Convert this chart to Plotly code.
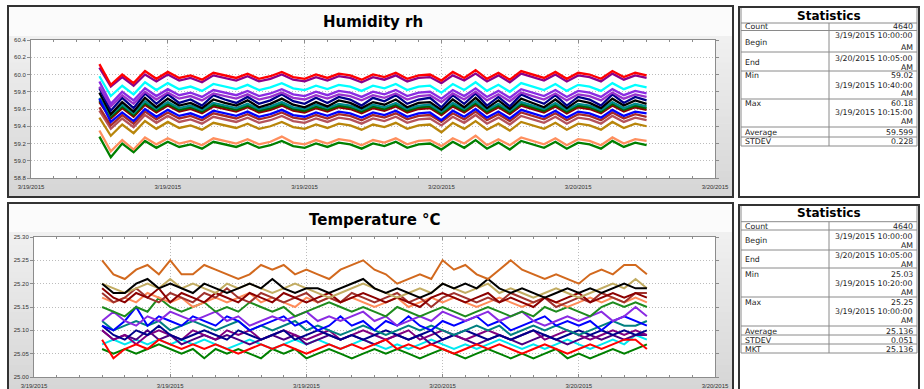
import plotly.graph_objects as go
import pandas as pd

W, H = 924, 389

# ---------------- data ----------------
times = pd.date_range("2015-03-19 10:00", periods=49, freq="30min")
x_range = ["2015-03-19 07:00", "2015-03-20 13:00"]
x_tickvals = ["2015-03-19 07:00", "2015-03-19 13:00", "2015-03-19 19:00",
              "2015-03-20 01:00", "2015-03-20 07:00", "2015-03-20 13:00"]
x_ticktext = ["3/19/2015", "3/19/2015", "3/19/2015", "3/20/2015", "3/20/2015", "3/20/2015"]

hum_ticks = [58.8, 59.0, 59.2, 59.4, 59.6, 59.8, 60.0, 60.2, 60.4]
temp_ticks = [25.00, 25.05, 25.10, 25.15, 25.20, 25.25, 25.30]

hum_red = [60.12, 59.88, 60.00, 59.90, 60.04, 59.95, 60.03, 59.96, 59.99, 59.94, 60.02, 59.99, 59.96, 60.01, 59.95, 59.98, 60.03, 59.97, 59.95, 60.00, 59.96, 60.01, 59.99, 59.94, 60.00, 59.97, 60.02, 59.95, 59.99, 60.00, 59.93, 60.03, 59.96, 60.05, 59.95, 60.02, 59.94, 60.04, 60.00, 59.96, 60.03, 59.95, 60.02, 60.00, 59.95, 60.04, 59.97, 60.02, 59.99]
hum_purple = [60.08, 59.86, 59.97, 59.87, 60.00, 59.92, 60.00, 59.93, 59.96, 59.91, 59.99, 59.96, 59.93, 59.98, 59.92, 59.95, 60.00, 59.94, 59.92, 59.97, 59.93, 59.98, 59.96, 59.91, 59.97, 59.94, 59.99, 59.92, 59.96, 59.97, 59.90, 59.99, 59.93, 60.01, 59.92, 59.99, 59.91, 60.01, 59.97, 59.93, 60.00, 59.92, 59.99, 59.97, 59.92, 60.01, 59.94, 59.99, 59.96]
hum_cyan = [59.98, 59.75, 59.87, 59.77, 59.91, 59.82, 59.90, 59.83, 59.86, 59.81, 59.89, 59.86, 59.83, 59.88, 59.82, 59.85, 59.90, 59.84, 59.82, 59.87, 59.83, 59.88, 59.86, 59.81, 59.87, 59.84, 59.89, 59.82, 59.86, 59.87, 59.79, 59.89, 59.82, 59.91, 59.81, 59.88, 59.80, 59.90, 59.86, 59.82, 59.89, 59.81, 59.88, 59.86, 59.81, 59.90, 59.83, 59.88, 59.85]
hum_violet = [59.92, 59.66, 59.80, 59.70, 59.84, 59.75, 59.83, 59.76, 59.79, 59.74, 59.82, 59.79, 59.76, 59.81, 59.75, 59.78, 59.83, 59.77, 59.75, 59.80, 59.76, 59.81, 59.79, 59.74, 59.80, 59.77, 59.82, 59.75, 59.79, 59.80, 59.72, 59.82, 59.75, 59.84, 59.74, 59.81, 59.73, 59.83, 59.79, 59.75, 59.82, 59.74, 59.81, 59.79, 59.74, 59.83, 59.76, 59.81, 59.78]
hum_orchid = [59.86, 59.63, 59.76, 59.66, 59.80, 59.71, 59.79, 59.72, 59.75, 59.70, 59.78, 59.75, 59.72, 59.77, 59.71, 59.74, 59.79, 59.73, 59.71, 59.76, 59.72, 59.77, 59.75, 59.70, 59.76, 59.73, 59.78, 59.71, 59.75, 59.76, 59.68, 59.78, 59.71, 59.80, 59.70, 59.77, 59.69, 59.79, 59.75, 59.71, 59.78, 59.70, 59.77, 59.75, 59.70, 59.79, 59.72, 59.77, 59.74]
hum_navy = [59.84, 59.58, 59.73, 59.61, 59.78, 59.66, 59.77, 59.67, 59.71, 59.64, 59.76, 59.71, 59.67, 59.74, 59.66, 59.70, 59.77, 59.69, 59.66, 59.73, 59.67, 59.74, 59.71, 59.64, 59.73, 59.69, 59.76, 59.66, 59.71, 59.73, 59.62, 59.76, 59.66, 59.78, 59.64, 59.74, 59.63, 59.77, 59.71, 59.66, 59.76, 59.64, 59.74, 59.71, 59.64, 59.77, 59.67, 59.74, 59.70]
hum_black = [59.79, 59.54, 59.68, 59.57, 59.73, 59.62, 59.72, 59.64, 59.67, 59.61, 59.71, 59.67, 59.64, 59.70, 59.62, 59.66, 59.72, 59.65, 59.62, 59.68, 59.63, 59.70, 59.67, 59.61, 59.68, 59.65, 59.71, 59.62, 59.67, 59.68, 59.59, 59.71, 59.62, 59.73, 59.61, 59.70, 59.60, 59.72, 59.67, 59.62, 59.71, 59.61, 59.70, 59.67, 59.61, 59.72, 59.64, 59.70, 59.66]
hum_teal = [59.73, 59.53, 59.65, 59.55, 59.69, 59.60, 59.68, 59.61, 59.64, 59.59, 59.67, 59.64, 59.61, 59.66, 59.60, 59.63, 59.68, 59.62, 59.60, 59.65, 59.61, 59.66, 59.64, 59.59, 59.65, 59.62, 59.67, 59.60, 59.64, 59.65, 59.57, 59.67, 59.60, 59.69, 59.59, 59.66, 59.58, 59.68, 59.64, 59.60, 59.67, 59.59, 59.66, 59.64, 59.59, 59.68, 59.61, 59.66, 59.63]
hum_darkgreen = [59.70, 59.51, 59.63, 59.53, 59.67, 59.58, 59.66, 59.59, 59.62, 59.57, 59.65, 59.62, 59.59, 59.64, 59.58, 59.61, 59.66, 59.60, 59.58, 59.63, 59.59, 59.64, 59.62, 59.57, 59.63, 59.60, 59.65, 59.58, 59.62, 59.63, 59.55, 59.65, 59.58, 59.67, 59.57, 59.64, 59.56, 59.66, 59.62, 59.58, 59.65, 59.57, 59.64, 59.62, 59.57, 59.66, 59.59, 59.64, 59.61]
hum_darkred = [59.68, 59.49, 59.61, 59.51, 59.65, 59.56, 59.64, 59.57, 59.60, 59.55, 59.63, 59.60, 59.57, 59.62, 59.56, 59.59, 59.64, 59.58, 59.56, 59.61, 59.57, 59.62, 59.60, 59.55, 59.61, 59.58, 59.63, 59.56, 59.60, 59.61, 59.53, 59.63, 59.56, 59.65, 59.55, 59.62, 59.54, 59.64, 59.60, 59.56, 59.63, 59.55, 59.62, 59.60, 59.55, 59.64, 59.57, 59.62, 59.59]
hum_blue = [59.72, 59.45, 59.56, 59.46, 59.60, 59.51, 59.59, 59.52, 59.55, 59.50, 59.58, 59.55, 59.52, 59.57, 59.51, 59.54, 59.59, 59.53, 59.51, 59.56, 59.52, 59.57, 59.55, 59.50, 59.56, 59.53, 59.58, 59.51, 59.55, 59.56, 59.47, 59.58, 59.51, 59.60, 59.50, 59.57, 59.49, 59.59, 59.55, 59.51, 59.58, 59.50, 59.57, 59.55, 59.50, 59.59, 59.52, 59.57, 59.55]
hum_brown = [59.62, 59.41, 59.53, 59.43, 59.57, 59.48, 59.56, 59.49, 59.52, 59.47, 59.55, 59.52, 59.49, 59.54, 59.48, 59.51, 59.56, 59.50, 59.48, 59.53, 59.49, 59.54, 59.52, 59.47, 59.53, 59.50, 59.55, 59.48, 59.52, 59.53, 59.45, 59.55, 59.48, 59.57, 59.47, 59.54, 59.46, 59.56, 59.52, 59.48, 59.55, 59.47, 59.54, 59.52, 59.47, 59.56, 59.49, 59.54, 59.51]
hum_rosy = [59.58, 59.37, 59.49, 59.39, 59.53, 59.44, 59.52, 59.45, 59.48, 59.43, 59.51, 59.48, 59.45, 59.50, 59.44, 59.47, 59.52, 59.46, 59.44, 59.49, 59.45, 59.50, 59.48, 59.43, 59.49, 59.46, 59.51, 59.44, 59.48, 59.49, 59.41, 59.51, 59.44, 59.53, 59.43, 59.50, 59.42, 59.52, 59.48, 59.44, 59.51, 59.43, 59.50, 59.48, 59.43, 59.52, 59.45, 59.50, 59.47]
hum_gold = [59.50, 59.29, 59.42, 59.32, 59.46, 59.37, 59.45, 59.38, 59.41, 59.36, 59.44, 59.41, 59.38, 59.43, 59.37, 59.40, 59.45, 59.39, 59.37, 59.42, 59.38, 59.43, 59.41, 59.36, 59.42, 59.39, 59.44, 59.37, 59.41, 59.42, 59.33, 59.44, 59.37, 59.46, 59.36, 59.43, 59.35, 59.45, 59.41, 59.37, 59.44, 59.36, 59.43, 59.41, 59.36, 59.45, 59.38, 59.43, 59.40]
hum_salmon = [59.35, 59.11, 59.24, 59.13, 59.27, 59.19, 59.26, 59.20, 59.23, 59.18, 59.26, 59.23, 59.20, 59.25, 59.19, 59.22, 59.28, 59.21, 59.19, 59.24, 59.20, 59.25, 59.23, 59.18, 59.24, 59.21, 59.26, 59.19, 59.23, 59.24, 59.17, 59.26, 59.20, 59.29, 59.18, 59.25, 59.18, 59.27, 59.23, 59.19, 59.26, 59.18, 59.25, 59.23, 59.18, 59.27, 59.20, 59.25, 59.23]
hum_green = [59.28, 59.04, 59.20, 59.10, 59.23, 59.15, 59.22, 59.16, 59.19, 59.14, 59.22, 59.19, 59.16, 59.21, 59.15, 59.18, 59.23, 59.17, 59.15, 59.20, 59.16, 59.21, 59.19, 59.14, 59.20, 59.17, 59.22, 59.15, 59.19, 59.20, 59.13, 59.22, 59.15, 59.24, 59.14, 59.21, 59.13, 59.23, 59.19, 59.15, 59.22, 59.14, 59.21, 59.19, 59.14, 59.23, 59.16, 59.21, 59.18]

tmp_green2 = [25.06, 25.05, 25.06, 25.05, 25.06, 25.07, 25.06, 25.05, 25.06, 25.04, 25.06, 25.05, 25.06, 25.05, 25.04, 25.06, 25.05, 25.06, 25.04, 25.05, 25.06, 25.05, 25.04, 25.05, 25.06, 25.05, 25.06, 25.05, 25.04, 25.05, 25.06, 25.05, 25.04, 25.05, 25.06, 25.05, 25.04, 25.05, 25.04, 25.05, 25.06, 25.04, 25.05, 25.04, 25.05, 25.06, 25.05, 25.06, 25.07]
tmp_cyan = [25.07, 25.08, 25.07, 25.08, 25.07, 25.08, 25.07, 25.08, 25.07, 25.08, 25.07, 25.06, 25.07, 25.08, 25.07, 25.06, 25.07, 25.08, 25.07, 25.08, 25.07, 25.06, 25.07, 25.08, 25.07, 25.06, 25.07, 25.06, 25.07, 25.08, 25.07, 25.06, 25.07, 25.06, 25.07, 25.08, 25.07, 25.06, 25.07, 25.06, 25.07, 25.08, 25.07, 25.06, 25.07, 25.08, 25.07, 25.09, 25.08]
tmp_indigo = [25.10, 25.08, 25.09, 25.08, 25.10, 25.08, 25.09, 25.07, 25.08, 25.09, 25.08, 25.09, 25.08, 25.07, 25.08, 25.09, 25.08, 25.09, 25.07, 25.08, 25.09, 25.08, 25.09, 25.08, 25.07, 25.08, 25.09, 25.08, 25.09, 25.07, 25.08, 25.09, 25.08, 25.07, 25.08, 25.09, 25.08, 25.07, 25.08, 25.09, 25.08, 25.07, 25.08, 25.09, 25.08, 25.09, 25.08, 25.09, 25.09]
tmp_purple = [25.10, 25.08, 25.09, 25.07, 25.09, 25.10, 25.09, 25.08, 25.10, 25.09, 25.08, 25.10, 25.09, 25.10, 25.08, 25.09, 25.10, 25.09, 25.08, 25.09, 25.10, 25.08, 25.09, 25.10, 25.09, 25.08, 25.09, 25.10, 25.08, 25.09, 25.10, 25.09, 25.08, 25.09, 25.10, 25.09, 25.08, 25.09, 25.10, 25.08, 25.09, 25.10, 25.09, 25.08, 25.09, 25.10, 25.09, 25.10, 25.09]
tmp_navy = [25.11, 25.09, 25.08, 25.10, 25.09, 25.11, 25.09, 25.08, 25.09, 25.10, 25.09, 25.08, 25.10, 25.09, 25.08, 25.09, 25.10, 25.08, 25.09, 25.10, 25.09, 25.08, 25.09, 25.08, 25.09, 25.10, 25.09, 25.08, 25.09, 25.10, 25.08, 25.09, 25.10, 25.09, 25.08, 25.09, 25.08, 25.09, 25.10, 25.09, 25.08, 25.09, 25.10, 25.09, 25.10, 25.09, 25.10, 25.09, 25.10]
tmp_teal = [25.12, 25.10, 25.11, 25.12, 25.11, 25.12, 25.10, 25.11, 25.12, 25.11, 25.10, 25.11, 25.12, 25.10, 25.11, 25.10, 25.11, 25.12, 25.10, 25.11, 25.10, 25.09, 25.10, 25.11, 25.10, 25.09, 25.10, 25.11, 25.10, 25.11, 25.10, 25.09, 25.10, 25.11, 25.10, 25.11, 25.09, 25.10, 25.11, 25.10, 25.11, 25.10, 25.09, 25.10, 25.11, 25.12, 25.11, 25.11, 25.12]
tmp_blue = [25.11, 25.10, 25.12, 25.15, 25.11, 25.13, 25.12, 25.11, 25.13, 25.12, 25.11, 25.13, 25.12, 25.10, 25.11, 25.12, 25.13, 25.11, 25.12, 25.10, 25.11, 25.13, 25.11, 25.12, 25.10, 25.12, 25.11, 25.13, 25.11, 25.10, 25.12, 25.11, 25.12, 25.13, 25.11, 25.12, 25.10, 25.11, 25.12, 25.13, 25.11, 25.12, 25.11, 25.12, 25.10, 25.12, 25.13, 25.12, 25.11]
tmp_violet = [25.12, 25.14, 25.12, 25.11, 25.13, 25.12, 25.14, 25.13, 25.12, 25.13, 25.14, 25.12, 25.13, 25.11, 25.12, 25.13, 25.12, 25.13, 25.14, 25.12, 25.13, 25.12, 25.13, 25.14, 25.12, 25.13, 25.11, 25.12, 25.13, 25.12, 25.14, 25.13, 25.12, 25.13, 25.14, 25.12, 25.13, 25.14, 25.12, 25.11, 25.12, 25.13, 25.12, 25.13, 25.14, 25.12, 25.13, 25.15, 25.13]
tmp_green = [25.15, 25.14, 25.13, 25.15, 25.14, 25.17, 25.15, 25.14, 25.15, 25.16, 25.14, 25.15, 25.14, 25.16, 25.15, 25.14, 25.15, 25.13, 25.14, 25.15, 25.16, 25.15, 25.14, 25.15, 25.14, 25.13, 25.15, 25.14, 25.13, 25.14, 25.15, 25.14, 25.13, 25.14, 25.15, 25.14, 25.13, 25.14, 25.13, 25.15, 25.14, 25.15, 25.14, 25.13, 25.15, 25.16, 25.15, 25.16, 25.15]
tmp_salmon = [25.17, 25.16, 25.17, 25.16, 25.18, 25.17, 25.16, 25.17, 25.15, 25.16, 25.17, 25.16, 25.17, 25.18, 25.16, 25.17, 25.16, 25.15, 25.17, 25.16, 25.17, 25.16, 25.17, 25.16, 25.15, 25.16, 25.17, 25.15, 25.16, 25.17, 25.16, 25.17, 25.16, 25.15, 25.16, 25.17, 25.16, 25.15, 25.16, 25.17, 25.16, 25.15, 25.16, 25.17, 25.16, 25.17, 25.16, 25.17, 25.16]
tmp_sienna = [25.18, 25.16, 25.17, 25.19, 25.17, 25.16, 25.18, 25.17, 25.16, 25.18, 25.17, 25.19, 25.17, 25.16, 25.18, 25.17, 25.16, 25.17, 25.18, 25.16, 25.17, 25.16, 25.18, 25.17, 25.16, 25.17, 25.18, 25.16, 25.17, 25.15, 25.17, 25.18, 25.17, 25.16, 25.17, 25.16, 25.18, 25.17, 25.16, 25.17, 25.15, 25.16, 25.17, 25.16, 25.18, 25.17, 25.16, 25.18, 25.18]
tmp_darkred = [25.19, 25.17, 25.16, 25.18, 25.17, 25.19, 25.16, 25.18, 25.17, 25.16, 25.18, 25.17, 25.16, 25.18, 25.17, 25.16, 25.18, 25.17, 25.16, 25.17, 25.18, 25.16, 25.17, 25.18, 25.17, 25.16, 25.17, 25.16, 25.15, 25.17, 25.18, 25.17, 25.16, 25.17, 25.18, 25.16, 25.17, 25.16, 25.15, 25.17, 25.16, 25.17, 25.18, 25.16, 25.17, 25.18, 25.17, 25.18, 25.17]
tmp_khaki = [25.20, 25.19, 25.18, 25.19, 25.20, 25.19, 25.21, 25.19, 25.20, 25.19, 25.18, 25.20, 25.19, 25.20, 25.19, 25.18, 25.19, 25.20, 25.19, 25.18, 25.17, 25.18, 25.19, 25.20, 25.19, 25.18, 25.17, 25.18, 25.19, 25.18, 25.20, 25.19, 25.18, 25.19, 25.20, 25.18, 25.19, 25.18, 25.17, 25.18, 25.19, 25.18, 25.17, 25.18, 25.19, 25.20, 25.19, 25.21, 25.19]
tmp_black = [25.20, 25.18, 25.18, 25.20, 25.21, 25.19, 25.20, 25.19, 25.18, 25.20, 25.19, 25.18, 25.19, 25.20, 25.19, 25.21, 25.19, 25.18, 25.19, 25.19, 25.18, 25.19, 25.20, 25.21, 25.19, 25.18, 25.19, 25.18, 25.17, 25.18, 25.20, 25.19, 25.20, 25.19, 25.21, 25.19, 25.18, 25.19, 25.18, 25.17, 25.18, 25.19, 25.18, 25.19, 25.18, 25.19, 25.20, 25.19, 25.19]
tmp_red = [25.08, 25.04, 25.06, 25.07, 25.06, 25.08, 25.07, 25.06, 25.07, 25.06, 25.07, 25.06, 25.05, 25.06, 25.07, 25.06, 25.07, 25.06, 25.05, 25.06, 25.07, 25.06, 25.07, 25.06, 25.07, 25.08, 25.06, 25.07, 25.06, 25.07, 25.06, 25.05, 25.06, 25.07, 25.06, 25.07, 25.06, 25.05, 25.06, 25.07, 25.06, 25.05, 25.06, 25.07, 25.06, 25.07, 25.08, 25.08, 25.06]
tmp_choc = [25.25, 25.22, 25.21, 25.23, 25.24, 25.22, 25.25, 25.22, 25.22, 25.24, 25.23, 25.22, 25.21, 25.22, 25.24, 25.23, 25.24, 25.22, 25.23, 25.22, 25.21, 25.23, 25.24, 25.25, 25.23, 25.22, 25.20, 25.21, 25.22, 25.21, 25.25, 25.23, 25.24, 25.22, 25.21, 25.23, 25.25, 25.23, 25.22, 25.21, 25.22, 25.21, 25.20, 25.22, 25.23, 25.22, 25.24, 25.24, 25.22]

hum_series = [
    (hum_green, "#008000"), (hum_salmon, "#ff8f5e"), (hum_gold, "#b8860b"),
    (hum_rosy, "#b5535a"), (hum_brown, "#a52a2a"), (hum_darkred, "#8b0000"),
    (hum_darkgreen, "#006400"), (hum_teal, "#008b8b"), (hum_black, "#000000"),
    (hum_navy, "#00008b"), (hum_orchid, "#9932cc"), (hum_violet, "#8a2be2"),
    (hum_blue, "#0000ff"), (hum_cyan, "#00ffff"), (hum_purple, "#8b008b"),
    (hum_red, "#ff0000"),
]
tmp_series = [
    (tmp_green2, "#008000"), (tmp_cyan, "#00e8f0"), (tmp_indigo, "#4b0082"),
    (tmp_purple, "#800080"), (tmp_navy, "#00008b"), (tmp_teal, "#008080"),
    (tmp_blue, "#0000ff"), (tmp_violet, "#8a2be2"), (tmp_green, "#1e8b1e"),
    (tmp_salmon, "#ff8c5a"), (tmp_sienna, "#a0322d"), (tmp_darkred, "#8b0000"),
    (tmp_khaki, "#c2ac62"), (tmp_black, "#000000"), (tmp_red, "#ff0000"),
    (tmp_choc, "#d2691e"),
]

hum_stats = [("Count", ["4640"]), ("Begin", ["3/19/2015 10:00:00", "AM"]),
             ("End", ["3/20/2015 10:05:00", "AM"]),
             ("Min", ["59.02", "3/19/2015 10:40:00", "AM"]),
             ("Max", ["60.18", "3/19/2015 10:15:00", "AM"]),
             ("Average", ["59.599"]), ("STDEV", ["0.228"])]
tmp_stats = [("Count", ["4640"]), ("Begin", ["3/19/2015 10:00:00", "AM"]),
             ("End", ["3/20/2015 10:05:00", "AM"]),
             ("Min", ["25.03", "3/19/2015 10:20:00", "AM"]),
             ("Max", ["25.25", "3/19/2015 10:00:00", "AM"]),
             ("Average", ["25.136"]), ("STDEV", ["0.051"]), ("MKT", ["25.136"])]

for vals, _ in hum_series + tmp_series:
    if len(vals) != len(times):
        raise ValueError(f"length {len(vals)}")

# ---------------- helpers ----------------
def px(x):
    return x / W


def py(y):
    return 1 - y / H


shapes = []
annotations = []


def rect(x0, y0, x1, y1, fill=None, line=None, lw=0):
    d = dict(type="rect", xref="paper", yref="paper", layer="below",
             x0=px(x0), x1=px(x1), y0=py(y1), y1=py(y0))
    d["fillcolor"] = fill if fill else "rgba(0,0,0,0)"
    d["line"] = dict(color=line if line else "rgba(0,0,0,0)", width=lw)
    shapes.append(d)


def hline(x0, x1, y, color="#8a8a8a", w=1):
    shapes.append(dict(type="line", xref="paper", yref="paper", layer="above",
                       x0=px(x0), x1=px(x1), y0=py(y), y1=py(y),
                       line=dict(color=color, width=w)))


def vline(x, y0, y1, color="#8a8a8a", w=1):
    shapes.append(dict(type="line", xref="paper", yref="paper", layer="above",
                       x0=px(x), x1=px(x), y0=py(y0), y1=py(y1),
                       line=dict(color=color, width=w)))


def text(x, y, s, size=7.8, bold=False, anchor="left", color="#222"):
    annotations.append(dict(xref="paper", yref="paper", x=px(x), y=py(y), text=s,
                            showarrow=False, xanchor=anchor, yanchor="middle",
                            borderpad=0,
                            font=dict(family="DejaVu Sans", size=size, color=color,
                                      weight="bold" if bold else "normal")))


def lerp_col(c0, c1, t):
    return "rgb(%d,%d,%d)" % tuple(round(a + (b - a) * t) for a, b in zip(c0, c1))


def panel(top, bottom, title_band, plot_box, title, title_y):
    rect(9, top, 732, title_band, fill="#fbfbfb")
    n = 24
    for i in range(n):
        y0 = title_band + (bottom - title_band) * i / n
        y1 = title_band + (bottom - title_band) * (i + 1) / n + 0.6
        rect(9, y0, 732, y1, fill=lerp_col((240, 240, 240), (214, 214, 214), i / (n - 1)))
    x0, y0, x1, y1 = plot_box
    rect(x0, y0, x1, y1, fill="#ffffff")
    rect(8, top - 1, 733, bottom, line="#333333", lw=2)
    text((x0 + x1) / 2, title_y, title, size=15, bold=True, anchor="center", color="#000")


def stats_box(top, bottom, header_y, lines, col_x, rows):
    rect(739, top, 919, bottom, fill="#ffffff", line="#333333", lw=2)
    text(829, header_y, "Statistics", size=12, bold=True, anchor="center", color="#000")
    for yl in lines:
        hline(741, 917, yl)
    vline(741, top + 1, lines[-1])
    vline(917, top + 1, lines[-1])
    vline(col_x, lines[0], lines[-1])
    for (label, label_y, vals) in rows:
        text(744, label_y, label)
        for s, yy in vals:
            text(914, yy, s, anchor="right")


# panels
panel(7, 197, 36, (31, 40, 715, 178), "Humidity rh", 22)
panel(204, 392, 232, (34, 237, 715, 377), "Temperature °C", 220)

# statistics tables
top_lines = [23, 30.5, 52, 71, 99, 127, 137, 146]
top_label_y = [26.8, 42.5, 62, 76, 103.5, 132, 141.5]
top_val_y = [[26.8], [35, 47.5], [58.8, 67.8], [76, 85, 94], [103.5, 112.5, 121.5], [132], [141.5]]
rows = []
for (lab, vals), ly, vys in zip(hum_stats, top_label_y, top_val_y):
    rows.append((lab, ly, list(zip(vals, vys))))
stats_box(7, 197, 15.5, top_lines, 829, rows)

bot_lines = [221.7, 230, 250, 268, 297, 326, 335, 344, 353]
bot_label_y = [226, 240.7, 259.3, 274.3, 302.7, 331, 340.3, 349.5]
bot_val_y = [[226], [236.3, 245.3], [255, 264], [274.3, 283.3, 292.3], [302.7, 311.8, 320.8], [331], [340.3], [349.5]]
rows = []
for (lab, vals), ly, vys in zip(tmp_stats, bot_label_y, bot_val_y):
    rows.append((lab, ly, list(zip(vals, vys))))
stats_box(205, 395, 212.5, bot_lines, 829, rows)

# ---------------- traces ----------------
fig = go.Figure()
for vals, col in hum_series:
    fig.add_trace(go.Scatter(x=times, y=vals, mode="lines", xaxis="x", yaxis="y",
                             line=dict(color=col, width=2.3), showlegend=False,
                             hoverinfo="skip"))
for vals, col in tmp_series:
    fig.add_trace(go.Scatter(x=times, y=vals, mode="lines", xaxis="x2", yaxis="y2",
                             line=dict(color=col, width=2), showlegend=False,
                             hoverinfo="skip"))

tickfont = dict(family="Liberation Sans", size=6, color="#333")
axis_common = dict(showline=True, linecolor="#8c8c8c", linewidth=1, zeroline=False,
                   showgrid=True, gridcolor="#bcbcbc", griddash="1px,2px", gridwidth=1,
                   tickfont=tickfont, tickcolor="#8c8c8c", fixedrange=True,
                   automargin=False)
xaxis_common = dict(axis_common, type="date", range=x_range, tickmode="array",
                    tickvals=x_tickvals, ticktext=x_ticktext, ticks="inside",
                    ticklen=3, mirror="allticks", ticklabelstandoff=3,
                    minor=dict(tick0="2015-03-19 07:00", dtick=3600000, ticks="inside",
                               ticklen=2, tickcolor="#8c8c8c", showgrid=False))

fig.update_layout(
    width=W, height=H, margin=dict(l=0, r=0, t=0, b=0, autoexpand=False),
    paper_bgcolor="#ffffff", plot_bgcolor="rgba(0,0,0,0)",
    showlegend=False,
    xaxis=dict(xaxis_common, domain=[px(31), px(715)], anchor="y"),
    yaxis=dict(axis_common, domain=[py(178), py(40)], anchor="x", range=[58.8, 60.4],
               tickmode="array", tickvals=hum_ticks,
               ticktext=["%.1f" % v for v in hum_ticks], ticks="outside", ticklen=3,
               mirror="allticks"),
    xaxis2=dict(xaxis_common, domain=[px(34), px(715)], anchor="y2"),
    yaxis2=dict(axis_common, domain=[py(377), py(237)], anchor="x2", range=[25.0, 25.3],
                tickmode="array", tickvals=temp_ticks,
                ticktext=["%.2f" % v for v in temp_ticks], ticks="outside", ticklen=3,
                mirror="allticks"),
    shapes=shapes, annotations=annotations,
)

fig.write_html("out.html", config={"displayModeBar": False},
               post_script="document.body.style.margin='0px';")
